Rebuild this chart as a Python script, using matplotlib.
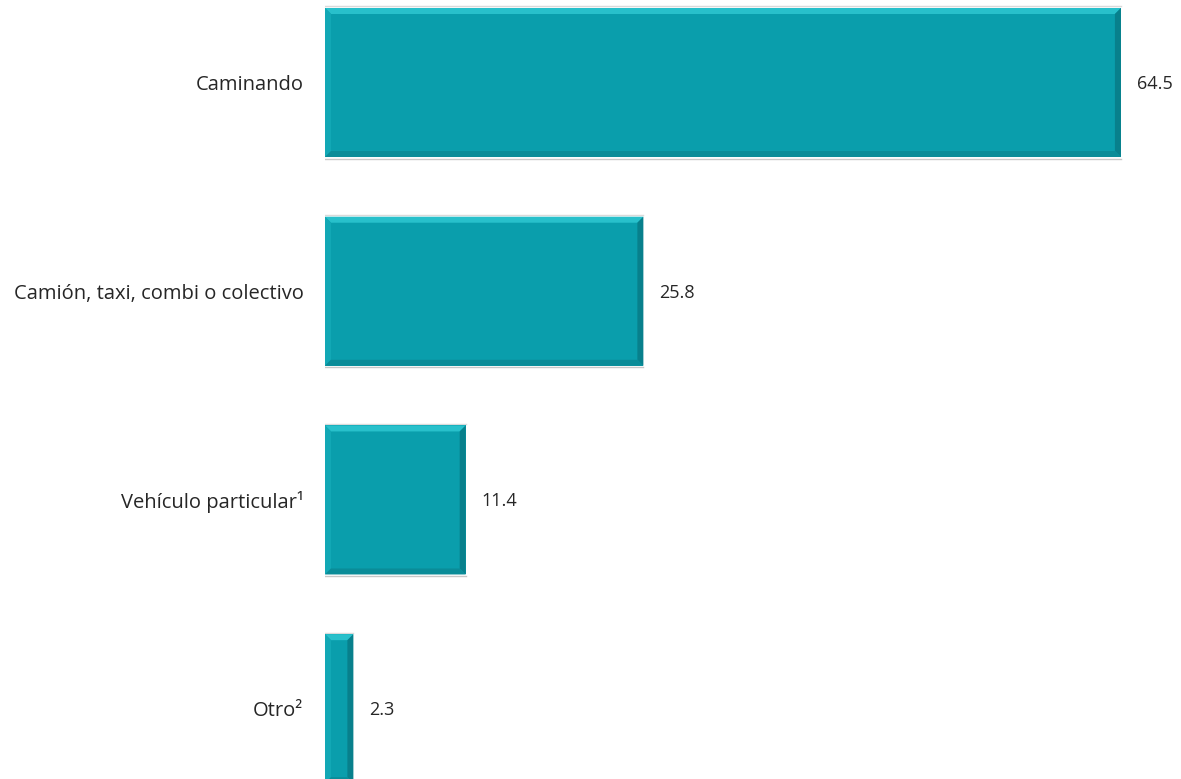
import matplotlib
matplotlib.use("Agg")
import matplotlib.pyplot as plt
from matplotlib.patches import Polygon

categories = ["Caminando", "Camión, taxi, combi o colectivo", "Vehículo particular¹", "Otro²"]
values = [64.5, 25.8, 11.4, 2.3]
value_labels = ["64.5", "25.8", "11.4", "2.3"]

W, H = 1181, 779
fig = plt.figure(figsize=(W / 100, H / 100), dpi=100)
fig.patch.set_facecolor("white")

x0_px = 325
px_per_unit = 12.34
ax = fig.add_axes([x0_px / W, 0, 1 - x0_px / W, 1])
ax.set_xlim(0, (W - x0_px) / px_per_unit)
ypx_per_cat = 208.7
ax.set_ylim(3 + (H - 708.7) / ypx_per_cat, -82.5 / ypx_per_cat)

bar_h = 0.714
main = "#0A9EAC"
pos = list(range(len(categories)))
ax.barh(pos, values, height=bar_h, color=main, edgecolor="none", zorder=2)

# bevel overlays
bx = 6 / px_per_unit
by = 6 / ypx_per_cat
for y, v in zip(pos, values):
    top = y - bar_h / 2
    bot = y + bar_h / 2
    dx = min(bx, v / 2)
    ax.add_patch(Polygon([(0, top), (v, top), (v - dx, top + by), (dx, top + by)],
                         closed=True, facecolor="#28C0CB", edgecolor="none", zorder=3))
    ax.add_patch(Polygon([(0, top), (dx, top + by), (dx, bot - by), (0, bot)],
                         closed=True, facecolor="#12A8B5", edgecolor="none", zorder=3))
    ax.add_patch(Polygon([(v, top), (v, bot), (v - dx, bot - by), (v - dx, top + by)],
                         closed=True, facecolor="#08808C", edgecolor="none", zorder=3))
    ax.add_patch(Polygon([(0, bot), (v, bot), (v - dx, bot - by), (dx, bot - by)],
                         closed=True, facecolor="#0A8C98", edgecolor="none", zorder=3))
    ax.plot([0, v], [bot + 1.5 / ypx_per_cat] * 2, color="#C8C8C8", lw=1, zorder=1)
    ax.plot([0, v], [top - 1.5 / ypx_per_cat] * 2, color="#DADADA", lw=1, zorder=1)

for y, v, lab in zip(pos, values, value_labels):
    ax.text(v + 16 / px_per_unit, y + 1.5 / ypx_per_cat, lab, va="center", ha="left",
            fontsize=13, family=["Open Sans", "DejaVu Sans"], color="#262626")

ax.set_yticks(pos)
ax.set_yticklabels(categories, fontsize=14.5, family=["Open Sans", "DejaVu Sans"], color="#262626")
ax.tick_params(axis="y", length=0, pad=15.5)
ax.set_xticks([])
for s in ax.spines.values():
    s.set_visible(False)
ax.set_facecolor("none")

fig.savefig("out.png", dpi=100)
